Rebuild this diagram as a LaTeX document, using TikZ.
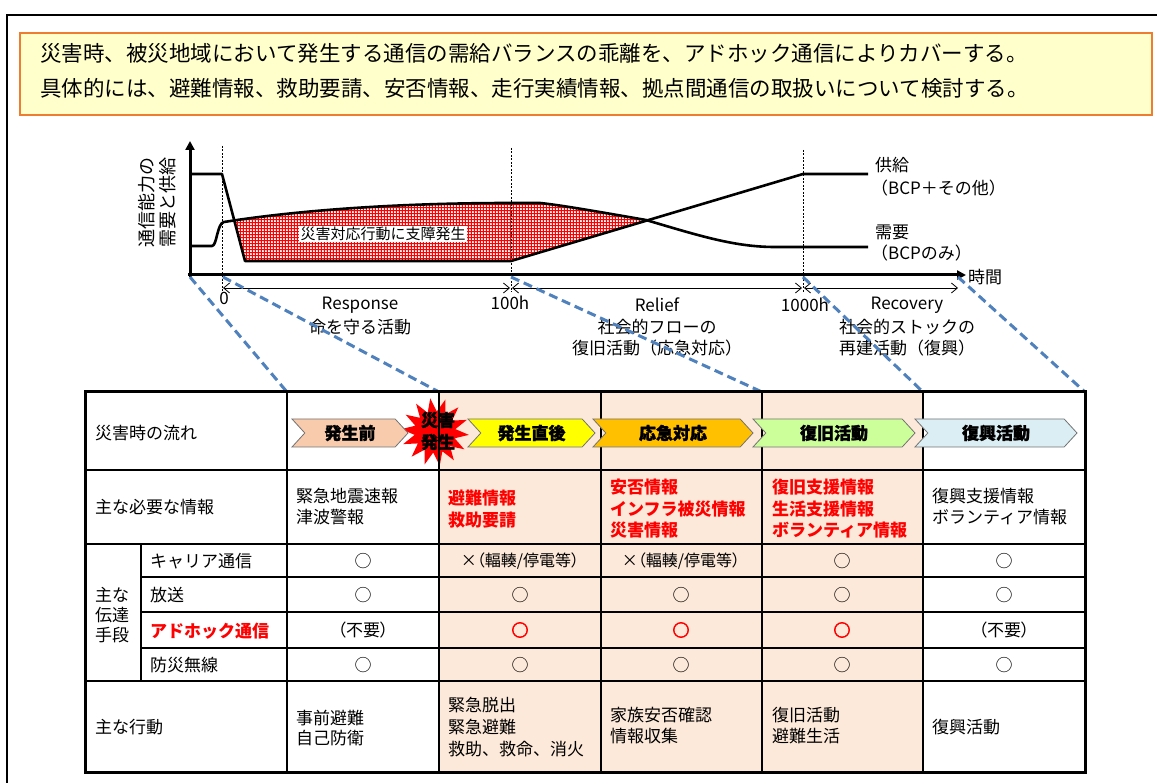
\documentclass[tikz,border=0pt]{standalone}
\usepackage{fontspec}
\setmainfont{Noto Sans CJK JP}
\newfontfamily\pfont{Noto Sans CJK JP}[RawFeature=+palt]
\usetikzlibrary{arrows.meta,shapes.geometric,shapes.symbols,patterns}
\pgfdeclarepatternformonly{redmesh}{\pgfqpoint{0pt}{0pt}}{\pgfqpoint{3.4pt}{3.4pt}}{\pgfqpoint{3.4pt}{3.4pt}}{%
 \pgfsetlinewidth{1.15pt}%
 \pgfpathmoveto{\pgfqpoint{0pt}{1.7pt}}\pgfpathlineto{\pgfqpoint{3.4pt}{1.7pt}}%
 \pgfpathmoveto{\pgfqpoint{1.7pt}{0pt}}\pgfpathlineto{\pgfqpoint{1.7pt}{3.4pt}}%
 \pgfusepath{stroke}}
\definecolor{bannerfill}{HTML}{FFFFCC}
\definecolor{bannerline}{HTML}{ED7D31}
\definecolor{pinkcell}{HTML}{FDE9D9}
\definecolor{chevA}{HTML}{F8CBAD}
\definecolor{chevB}{HTML}{FFFF00}
\definecolor{chevC}{HTML}{FFC000}
\definecolor{chevD}{HTML}{CCFF99}
\definecolor{chevE}{HTML}{DAEEF3}
\definecolor{dashblue}{HTML}{4F81BD}
\newcommand\szf[2]{\fontsize{#1}{#2}\selectfont}
\tikzset{
  txt/.style={inner sep=0pt, font=\szf{17}{21}},
  lt/.style={txt, anchor=west, align=left},
  redb/.style={lt, text=red, font=\szf{17}{21.5}\bfseries},
  okmark/.style={txt},
  redmark/.style={txt, text=red, font=\szf{17}{21}\bfseries\addfontfeature{FakeBold=3}},
  chev/.style={signal, signal from=west, signal to=east, signal pointer angle=95,
     draw=black!55, line width=0.8pt, minimum height=28pt, inner sep=0pt,
     font=\szf{17}{17}\bfseries\addfontfeature{FakeBold=1.5}},
  curveline/.style={line width=2.6pt, line join=round},
  vdash/.style={line width=0.8pt, dash pattern=on 2pt off 1.5pt},
  phasearrow/.style={line width=0.8pt, {Straight Barb[length=6pt,width=10pt]}-{Straight Barb[length=6pt,width=10pt]}},
  zoomline/.style={dashblue, line width=3pt, dash pattern=on 9pt off 5pt},
  tline/.style={line width=2pt},
  bannertext/.style={inner sep=0pt, anchor=west, font=\szf{21.5}{24}},
  clab/.style={inner sep=0pt, font=\szf{17}{21}},
}
\begin{document}
\begin{tikzpicture}[x=1pt,y=-1pt]
\useasboundingbox (0,0) rectangle (1157,783);
\fill[white] (0,0) rectangle (1157,783);
% outer frame
\draw[line width=1.2pt] (7,790) -- (7,15) -- (1160,15);
% banner
\node[draw=bannerline, fill=bannerfill, line width=2.2pt, minimum width=1132pt, minimum height=82pt, inner sep=0pt] (banner) at (586,74) {};
\node[bannertext] (ban1) at (40,53) {災害時、被災地域において発生する通信の需給バランスの乖離を、アドホック通信によりカバーする。};
\node[bannertext] (ban2) at (40,88) {具体的には、避難情報、救助要請、安否情報、走行実績情報、拠点間通信の取扱いについて検討する。};

% ---- chart ----
\fill[white] (224,222) .. controls (300,210) and (400,203) .. (511,203) -- (540,203)
   .. controls (560,205) and (600,212) .. (646,220) -- (511,261) -- (245,261) -- (234,220) -- cycle;
\fill[pattern=redmesh, pattern color=red] (224,222) .. controls (300,210) and (400,203) .. (511,203) -- (540,203)
   .. controls (560,205) and (600,212) .. (646,220) -- (511,261) -- (245,261) -- (234,220) -- cycle;
\node[fill=white, inner sep=1.5pt, font=\szf{15}{18}] (gap) at (383,234) {災害対応行動に支障発生};
% vertical dashed markers
\draw[vdash] (222,146) -- (222,292);
\draw[vdash] (511,148) -- (511,292);
\draw[vdash] (803,150) -- (803,293);
% supply
\draw[curveline] (190,174) -- (222,174) -- (245,261) -- (511,261) -- (803,174) -- (868,174);
% demand
\draw[curveline] (190,246) -- (212,246) .. controls (217,246) and (217,223) .. (224,222)
   .. controls (300,210) and (400,203) .. (511,203) -- (540,203)
   .. controls (560,205) and (600,212) .. (646,220) .. controls (700,236) and (735,247) .. (775,247) -- (868,247);
% axes
\coordinate (origin) at (190,275);
\coordinate (ytop) at (190,141);
\coordinate (xend) at (966,275);
\draw[line width=3pt, -{Triangle[length=9pt,width=9pt]}] (190,277) -- (ytop);
\draw[line width=3pt, -{Triangle[length=9pt,width=9pt]}] (188,275) -- (xend);
\node[rotate=90, align=center, inner sep=0pt, font=\szf{18}{21}] (ylab) at (157,203) {通信能力の\\需要と供給};
\node[clab, anchor=west] (tlab) at (968,277) {時間};
\node[clab, anchor=west] (sup1) at (875,165) {供給};
\node[clab, anchor=west] (sup2) at (871,188) {（BCP＋その他）};
\node[clab, anchor=west] (dem1) at (875,232) {需要};
\node[clab, anchor=west] (dem2) at (871,253) {（BCPのみ）};
% phase ranges
\coordinate (r0) at (222,288);
\coordinate (r1) at (511,288);
\coordinate (r2) at (803,288);
\coordinate (r3) at (958,288);
\draw[phasearrow] ([xshift=1pt]r0) -- ([xshift=-1pt]r1);
\draw[phasearrow] ([xshift=1pt]r1) -- ([xshift=-1pt]r2);
\draw[phasearrow] ([xshift=1pt]r2) -- (r3);
\node[clab] (t0) at (224,298) {0};
\node[clab] (t100) at (510,303) {100h};
\node[clab] (t1000) at (805,305) {1000h};
\node[clab] (resp) at (360,305) {Response};
\node[clab] (resp2) at (360,327) {命を守る活動};
\node[clab] (reli) at (657,305) {Relief};
\node[clab] (reli2) at (657,327) {社会的フローの};
\node[clab] (reli3) at (657,348) {復旧活動（応急対応）};
\node[clab] (reco) at (907,305) {Recovery};
\node[clab] (reco2) at (907,327) {社会的ストックの};
\node[clab] (reco3) at (907,348) {再建活動（復興）};

% ---- zoom connectors ----
\coordinate (a0) at (190,277);
\coordinate (a1) at (223,277);
\coordinate (a2) at (511,277);
\coordinate (a3) at (803,277);
\coordinate (a4) at (958,277);
\coordinate (b0) at (287,392);
\coordinate (b1) at (439,392);
\coordinate (b2) at (762,392);
\coordinate (b3) at (923,392);
\coordinate (b4) at (1085,392);
\draw[zoomline] (a0) -- (b0);
\draw[zoomline] (a1) -- (b1);
\draw[zoomline] (a2) -- (b2);
\draw[zoomline] (a3) -- (b3);
\draw[zoomline] (a4) -- (b4);

% ---- table ----
\fill[pinkcell] (439,392) rectangle (923,772);
\node[star, star points=14, star point ratio=1.65, fill=red, minimum size=68pt, inner sep=0pt, rotate=8] (burst) at (435,432) {};
\draw[tline] (287,392) -- (287,772);
\draw[tline] (439,392) -- (439,772);
\draw[tline] (601,392) -- (601,772);
\draw[tline] (762,392) -- (762,772);
\draw[tline] (923,392) -- (923,772);
\draw[tline] (141,544) -- (141,681);
\draw[tline] (85,470) -- (1085,470);
\draw[tline] (85,544) -- (1085,544);
\draw[tline] (141,577) -- (1085,577);
\draw[tline] (141,612) -- (1085,612);
\draw[tline] (141,648) -- (1085,648);
\draw[tline] (85,681) -- (1085,681);
\draw[line width=3pt] (85,392) rectangle (1085,772);

% chevrons
\node[chev, fill=chevA, minimum width=116pt] (ch1) at (350,433) {発生前};
\node[chev, fill=chevB, minimum width=127pt] (ch2) at (531.5,433) {発生直後};
\node[chev, fill=chevC, minimum width=160pt] (ch3) at (673,433) {応急対応};
\node[chev, fill=chevD, minimum width=162pt] (ch4) at (834,433) {復旧活動};
\node[chev, fill=chevE, minimum width=162pt] (ch5) at (996,433) {復興活動};
\node[align=center, inner sep=0pt, font=\szf{17}{22}\bfseries\addfontfeature{FakeBold=1.5}] (bursttext) at (438,431) {災害\\発生};

% row labels
\node[lt] (h1) at (95,433) {災害時の流れ};
\node[lt] (h2) at (95,507) {主な必要な情報};
\node[lt, font=\szf{17}{20}] (h3) at (95,615) {主な\\伝達\\手段};
\node[lt] (s1) at (150,561) {キャリア通信};
\node[lt] (s2) at (150,595) {放送};
\node[redb] (s3) at (150,631) {アドホック通信};
\node[lt] (s4) at (150,665) {防災無線};
\node[lt] (h4) at (95,727) {主な行動};

% info row
\node[lt] (i1) at (296,507) {緊急地震速報\\津波警報};
\node[redb] (i2) at (448,509) {避難情報\\救助要請};
\node[redb] (i3) at (610,509) {安否情報\\インフラ被災情報\\災害情報};
\node[redb] (i4) at (772,509) {復旧支援情報\\生活支援情報\\ボランティア情報};
\node[lt] (i5) at (932,507) {復興支援情報\\ボランティア情報};

% means rows
\node[okmark] (m11) at (363,561) {○};
\node[txt, font=\pfont\szf{16}{20}] (m12) at (520,561) {×（輻輳/停電等）};
\node[txt, font=\pfont\szf{16}{20}] (m13) at (681,561) {×（輻輳/停電等）};
\node[okmark] (m14) at (842,561) {○};
\node[okmark] (m15) at (1004,561) {○};
\node[okmark] (m21) at (363,595) {○};
\node[okmark] (m22) at (520,595) {○};
\node[okmark] (m23) at (681,595) {○};
\node[okmark] (m24) at (842,595) {○};
\node[okmark] (m25) at (1004,595) {○};
\node[txt, font=\pfont\szf{17}{20}] (m31) at (363,630) {（不要）};
\node[redmark] (m32) at (520,630) {○};
\node[redmark] (m33) at (681,630) {○};
\node[redmark] (m34) at (842,630) {○};
\node[txt, font=\pfont\szf{17}{20}] (m35) at (1004,630) {（不要）};
\node[okmark] (m41) at (363,665) {○};
\node[okmark] (m42) at (520,665) {○};
\node[okmark] (m43) at (681,665) {○};
\node[okmark] (m44) at (842,665) {○};
\node[okmark] (m45) at (1004,665) {○};

% action row
\node[lt, font=\szf{17}{20.5}] (act1) at (296,728) {事前避難\\自己防衛};
\node[lt, font=\szf{17}{22}] (act2) at (448,727) {緊急脱出\\緊急避難\\救助、救命、消火};
\node[lt] (act3) at (610,726) {家族安否確認\\情報収集};
\node[lt] (act4) at (772,726) {復旧活動\\避難生活};
\node[lt] (act5) at (932,727) {復興活動};
\end{tikzpicture}
\end{document}
